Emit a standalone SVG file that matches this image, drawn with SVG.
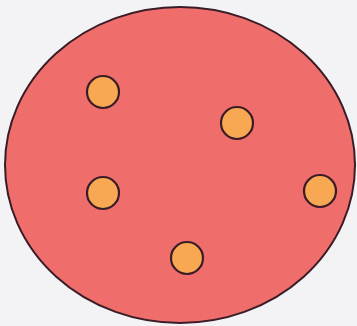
<svg xmlns="http://www.w3.org/2000/svg" width="357" height="326" viewBox="0 0 357 326">
<style>
.dot{fill:#f8a753;stroke:#3a1c26;stroke-width:2.2}
</style>
<rect width="357" height="326" fill="#f3f3f5"/>
<g id="cell">
<ellipse cx="180" cy="165" rx="175" ry="158" fill="#ef6e6c" stroke="#3a1c26" stroke-width="2"/>
</g>
<g id="p1"><circle class="dot" cx="103" cy="92" r="16"/></g>
<g id="p2"><circle class="dot" cx="237" cy="123" r="16"/></g>
<g id="p3"><circle class="dot" cx="103" cy="193" r="16"/></g>
<g id="p4"><circle class="dot" cx="320" cy="191" r="16"/></g>
<g id="p5"><circle class="dot" cx="187" cy="258" r="16"/></g>
<g id="connectors"/>
</svg>
